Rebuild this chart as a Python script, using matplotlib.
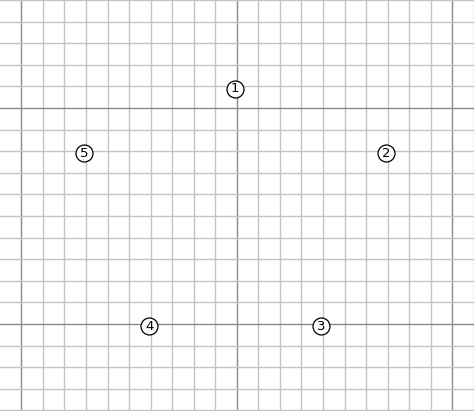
import matplotlib

matplotlib.use("Agg")
import matplotlib.pyplot as plt  # noqa: E402
from matplotlib.ticker import MultipleLocator  # noqa: E402
from matplotlib.transforms import offset_copy  # noqa: E402

# labelled points (grid units)
labels = ["1", "2", "3", "4", "5"]
xs = [0, 7, 4, -4, -7]
ys = [1, -2, -10, -10, -2]

fig = plt.figure(figsize=(4.74, 4.11), dpi=100)
ax = fig.add_axes([0, 0, 1, 1])
ax.set_xlim(-236.8 / 21.55, 237.2 / 21.55)
ax.set_ylim(-303 / 21.6, 108 / 21.6)

ax.xaxis.set_major_locator(MultipleLocator(10))
ax.yaxis.set_major_locator(MultipleLocator(10))
ax.xaxis.set_minor_locator(MultipleLocator(1))
ax.yaxis.set_minor_locator(MultipleLocator(1))
ax.grid(True, which="minor", color="#c4c4c4", linewidth=1.0)
ax.grid(True, which="major", color="#8a8a8a", linewidth=1.0)
ax.tick_params(which="both", length=0, labelbottom=False, labelleft=False)
for s in ax.spines.values():
    s.set_visible(False)

# badges sit a touch below-left of their grid point
tr = offset_copy(ax.transData, fig=fig, x=-1.1, y=-1.6, units="points")
ax.plot(xs, ys, "o", ms=12.2, mfc="white", mec="black", mew=0.9,
        transform=tr, zorder=3)
for lab, x, y in zip(labels, xs, ys):
    ax.text(x, y, lab, ha="center", va="center", fontsize=9.5, color="black",
            transform=tr, zorder=4)

fig.savefig("out.png", dpi=100)
